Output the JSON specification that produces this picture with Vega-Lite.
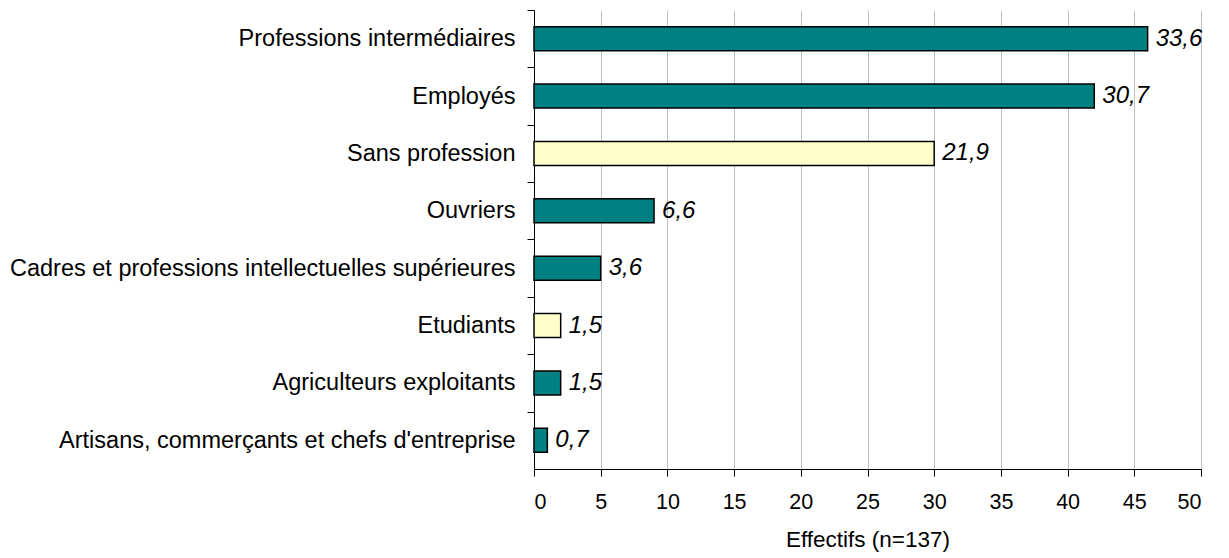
{
  "$schema": "https://vega.github.io/schema/vega-lite/v6.json",
  "width": 667,
  "height": 459,
  "autosize": {"type": "none"},
  "padding": {"left": 534, "top": 10, "right": 28, "bottom": 89},
  "background": "white",
  "config": {"view": {"stroke": null}, "font": "Liberation Sans"},
  "data": {
    "values": [
      {"categorie": "Professions intermédiaires", "effectif": 46, "pct": "33,6", "groupe": "actif"},
      {"categorie": "Employés", "effectif": 42, "pct": "30,7", "groupe": "actif"},
      {"categorie": "Sans profession", "effectif": 30, "pct": "21,9", "groupe": "inactif"},
      {"categorie": "Ouvriers", "effectif": 9, "pct": "6,6", "groupe": "actif"},
      {"categorie": "Cadres et professions intellectuelles supérieures", "effectif": 5, "pct": "3,6", "groupe": "actif"},
      {"categorie": "Etudiants", "effectif": 2, "pct": "1,5", "groupe": "inactif"},
      {"categorie": "Agriculteurs exploitants", "effectif": 2, "pct": "1,5", "groupe": "actif"},
      {"categorie": "Artisans, commerçants et chefs d'entreprise", "effectif": 1, "pct": "0,7", "groupe": "actif"}
    ]
  },
  "encoding": {
    "y": {
      "field": "categorie",
      "type": "nominal",
      "sort": null,
      "scale": {"paddingInner": 0.58, "paddingOuter": 0.29},
      "axis": {
        "title": null,
        "labelFont": "Liberation Sans",
        "labelFontSize": 23.5,
        "labelColor": "black",
        "labelPadding": 12,
        "labelLimit": 1000,
        "domainColor": "black",
        "domainWidth": 1,
        "tickColor": "black",
        "tickSize": 7,
        "tickOffset": -28.7,
        "labelOffset": 28.7,
        "grid": false
      }
    },
    "x": {
      "field": "effectif",
      "type": "quantitative",
      "scale": {"domain": [0, 50], "nice": false},
      "axis": {
        "values": [0, 5, 10, 15, 20, 25, 30, 35, 40, 45, 50],
        "title": "Effectifs (n=137)",
        "titleFont": "Liberation Sans",
        "titleFontSize": 22.5,
        "titleFontWeight": "normal",
        "titleColor": "black",
        "titlePadding": 16,
        "labelFont": "Liberation Sans",
        "labelFontSize": 21.5,
        "labelColor": "black",
        "labelPadding": 15,
        "domainColor": "black",
        "tickColor": "black",
        "tickSize": 7,
        "grid": true,
        "gridColor": "#c0c0c0",
        "gridWidth": 1
      }
    }
  },
  "layer": [
    {
      "mark": {"type": "bar", "stroke": "black", "strokeWidth": 1.5},
      "encoding": {
        "color": {
          "field": "groupe",
          "type": "nominal",
          "scale": {"domain": ["actif", "inactif"], "range": ["#008080", "#FFFFCC"]},
          "legend": null
        }
      }
    },
    {
      "mark": {"type": "text", "align": "left", "baseline": "middle", "dx": 8, "fontStyle": "italic", "fontSize": 24, "font": "Liberation Sans", "color": "black"},
      "encoding": {"text": {"field": "pct"}}
    }
  ]
}
